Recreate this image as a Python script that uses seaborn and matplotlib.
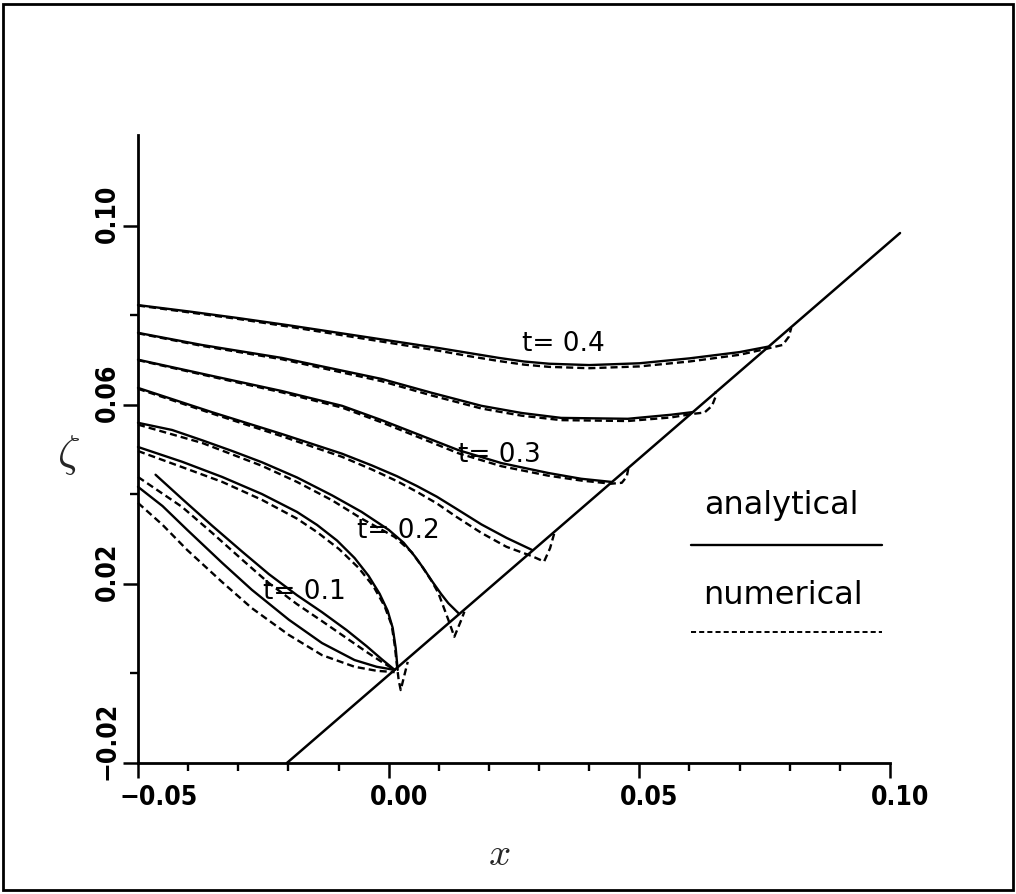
import numpy as np
import pandas as pd
import matplotlib
matplotlib.use("Agg")
import matplotlib.pyplot as plt
import seaborn as sns
from matplotlib.transforms import ScaledTranslation
from matplotlib.patches import Rectangle

# ---------------- data ----------------
# solid diagonal line
diag_x = [-0.0203, 0.1020]
diag_y = [-0.0200, 0.0984]

# t = 0.40
ana_x_040 = [-0.05, -0.04, -0.03, -0.02, -0.01, 0.0, 0.01, 0.016, 0.022, 0.027, 0.032, 0.04, 0.05, 0.06, 0.07, 0.0756]
ana_y_040 = [0.0823, 0.0809, 0.0794, 0.0778, 0.0761, 0.0744, 0.0727, 0.0716, 0.0705, 0.0697, 0.0692, 0.0689, 0.0693, 0.0704, 0.0718, 0.0730]
num_x_040 = [-0.05, -0.04, -0.03, -0.02, -0.01, 0.0, 0.01, 0.016, 0.022, 0.027, 0.032, 0.04, 0.05, 0.06, 0.07, 0.0756, 0.0786, 0.0798, 0.0803]
num_y_040 = [0.0822, 0.0807, 0.0792, 0.0775, 0.0757, 0.0739, 0.0721, 0.0709, 0.0698, 0.0690, 0.0685, 0.0682, 0.0686, 0.0697, 0.0712, 0.0726, 0.0734, 0.0752, 0.0772]

# t = 0.35
ana_x_035 = [-0.05, -0.0373, -0.0213, -0.0014, 0.0086, 0.0185, 0.0265, 0.0344, 0.0477, 0.0563, 0.0607]
ana_y_035 = [0.0761, 0.0734, 0.0705, 0.0658, 0.0627, 0.0598, 0.0582, 0.0571, 0.0569, 0.0578, 0.0584]
num_x_035 = [-0.05, -0.0373, -0.0213, -0.0014, 0.0086, 0.0185, 0.0265, 0.0344, 0.0477, 0.0563, 0.0607, 0.0630, 0.0645, 0.0652, 0.0652]
num_y_035 = [0.0760, 0.0732, 0.0702, 0.0653, 0.0621, 0.0592, 0.0576, 0.0566, 0.0564, 0.0572, 0.0580, 0.0583, 0.0598, 0.0618, 0.0630]

# t = 0.30
ana_x_030 = [-0.05, -0.0353, -0.0213, -0.0093, -0.0014, 0.0066, 0.0139, 0.0225, 0.0318, 0.0384, 0.0444]
ana_y_030 = [0.0701, 0.0665, 0.0631, 0.0598, 0.0566, 0.0531, 0.0499, 0.0470, 0.0448, 0.0435, 0.0428]
num_x_030 = [-0.05, -0.0353, -0.0213, -0.0093, -0.0014, 0.0066, 0.0139, 0.0225, 0.0318, 0.0384, 0.0444, 0.0465, 0.0475, 0.0478]
num_y_030 = [0.0700, 0.0663, 0.0628, 0.0594, 0.0561, 0.0525, 0.0492, 0.0463, 0.0442, 0.0431, 0.0424, 0.0426, 0.0440, 0.0458]

# t = 0.25
ana_x_025 = [-0.05, -0.0353, -0.0213, -0.0093, -0.0034, 0.0016, 0.0056, 0.0096, 0.0135, 0.0185, 0.0235, 0.0286]
ana_y_025 = [0.0638, 0.0584, 0.0535, 0.0491, 0.0465, 0.0441, 0.0419, 0.0395, 0.0368, 0.0333, 0.0303, 0.0276]
num_x_025 = [-0.05, -0.0353, -0.0213, -0.0093, -0.0034, 0.0016, 0.0056, 0.0096, 0.0135, 0.0185, 0.0235, 0.0286, 0.0310, 0.0322, 0.0330]
num_y_025 = [0.0636, 0.0581, 0.0530, 0.0484, 0.0456, 0.0430, 0.0406, 0.0380, 0.0350, 0.0314, 0.0283, 0.0262, 0.0250, 0.0280, 0.0312]

# t = 0.20
ana_x_020 = [-0.05, -0.0432, -0.0372, -0.0312, -0.0253, -0.0183, -0.0113, -0.0054, 0.0000, 0.0030, 0.0052, 0.0070, 0.0086, 0.0105, 0.0119, 0.0139]
ana_y_020 = [0.0560, 0.0544, 0.0521, 0.0497, 0.0472, 0.0438, 0.0398, 0.0361, 0.0321, 0.0292, 0.0262, 0.0234, 0.0207, 0.0177, 0.0157, 0.0135]
num_x_020 = [-0.05, -0.0372, -0.0253, -0.0183, -0.0113, -0.0054, 0.0012, 0.0046, 0.0066, 0.0086, 0.0099, 0.0119, 0.0131, 0.0145, 0.0151]
num_y_020 = [0.0556, 0.0515, 0.0464, 0.0428, 0.0387, 0.0346, 0.0305, 0.0271, 0.0240, 0.0206, 0.0180, 0.0120, 0.0082, 0.0120, 0.0138]

# t = 0.15
ana_x_015 = [-0.05, -0.0412, -0.0332, -0.0253, -0.0183, -0.0143, -0.0103, -0.0068, -0.0040, -0.0018, -0.0002, 0.0008, 0.0014, 0.0018]
ana_y_015 = [0.0506, 0.0473, 0.0439, 0.0401, 0.0361, 0.0332, 0.0297, 0.0258, 0.0218, 0.0178, 0.0140, 0.0102, 0.0057, 0.0008]
num_x_015 = [-0.05, -0.0412, -0.0332, -0.0253, -0.0183, -0.0143, -0.0099, -0.0060, -0.0030, -0.0008, 0.0006, 0.0012, 0.0016, 0.0020, 0.0024, 0.0030, 0.0038]
num_y_015 = [0.0497, 0.0461, 0.0428, 0.0388, 0.0346, 0.0316, 0.0278, 0.0236, 0.0194, 0.0150, 0.0108, 0.0064, 0.0023, -0.0015, -0.0037, -0.0010, 0.0026]

# t = 0.10
ana_x_010 = [-0.0465, -0.0412, -0.0352, -0.0292, -0.0239, -0.0183, -0.0133, -0.0084, -0.0044, -0.0014, 0.0012]
ana_y_010 = [0.0444, 0.0390, 0.0330, 0.0272, 0.0222, 0.0175, 0.0137, 0.0097, 0.0061, 0.0032, 0.0008]
num_x_010 = [-0.05, -0.0412, -0.0352, -0.0292, -0.0239, -0.0183, -0.0133, -0.0084, -0.0044, -0.0014, 0.0012]
num_y_010 = [0.0439, 0.0372, 0.0314, 0.0254, 0.0202, 0.0155, 0.0117, 0.0079, 0.0048, 0.0026, 0.0008]

# t = 0.05
ana_x_005 = [-0.05, -0.0451, -0.0402, -0.0332, -0.0273, -0.0199, -0.0133, -0.0068, -0.0024, 0.0012]
ana_y_005 = [0.0417, 0.0374, 0.0321, 0.0247, 0.0187, 0.0120, 0.0068, 0.0030, 0.0015, 0.0008]
num_x_005 = [-0.05, -0.0451, -0.0402, -0.0332, -0.0273, -0.0199, -0.0133, -0.0068, -0.0024, 0.0012]
num_y_005 = [0.0381, 0.0332, 0.0276, 0.0204, 0.0146, 0.0086, 0.0041, 0.0015, 0.0006, 0.0003]

curve_times = ["0.40", "0.35", "0.30", "0.25", "0.20", "0.15", "0.10", "0.05"]

# curve annotations
label_text = ["t= 0.4", "t= 0.3", "t= 0.2", "t= 0.1"]
label_x = [0.0348, 0.0221, 0.0020, -0.0169]
label_y = [0.0736, 0.0488, 0.0318, 0.0182]

# axes ticks
x_major = [-0.05, 0.00, 0.05, 0.10]
x_major_labels = ["\u22120.05", "0.00", "0.05", "0.10"]
x_minor = [-0.04, -0.03, -0.02, -0.01, 0.01, 0.02, 0.03, 0.04, 0.06, 0.07, 0.08, 0.09]
y_major = [-0.02, 0.02, 0.06, 0.10]
y_major_labels = ["\u22120.02", "0.02", "0.06", "0.10"]
y_minor = [0.00, 0.04, 0.08]

legend_names = ["analytical", "numerical"]

# ---------------- assemble long table ----------------
series = {
    "0.40": (ana_x_040, ana_y_040, num_x_040, num_y_040),
    "0.35": (ana_x_035, ana_y_035, num_x_035, num_y_035),
    "0.30": (ana_x_030, ana_y_030, num_x_030, num_y_030),
    "0.25": (ana_x_025, ana_y_025, num_x_025, num_y_025),
    "0.20": (ana_x_020, ana_y_020, num_x_020, num_y_020),
    "0.15": (ana_x_015, ana_y_015, num_x_015, num_y_015),
    "0.10": (ana_x_010, ana_y_010, num_x_010, num_y_010),
    "0.05": (ana_x_005, ana_y_005, num_x_005, num_y_005),
}
rows = []
for name in curve_times:
    axx, ayy, nxx, nyy = series[name]
    for xv, yv in zip(axx, ayy):
        rows.append({"curve": name, "kind": "analytical", "x": xv, "y": yv})
    for xv, yv in zip(nxx, nyy):
        rows.append({"curve": name, "kind": "numerical", "x": xv, "y": yv})
df = pd.DataFrame(rows)

# ---------------- figure ----------------
sns.set_theme(style="white")
plt.rcParams["font.family"] = ["DejaVu Sans"]
plt.rcParams["mathtext.fontset"] = "cm"

W, H = 1016, 894
fig = plt.figure(figsize=(W / 100, H / 100), dpi=100)
fig.patch.set_facecolor("white")
ax = fig.add_axes([138 / W, (H - 763) / H, (890 - 138) / W, (763 - 135) / H])
ax.set_facecolor("white")

DASH = (3.0, 1.7)
sns.lineplot(data=df, x="x", y="y", units="curve", style="kind",
             estimator=None, sort=False, color="black", linewidth=1.7,
             dashes={"analytical": "", "numerical": DASH}, legend=False, ax=ax)
sns.lineplot(x=diag_x, y=diag_y, color="black", linewidth=1.8,
             estimator=None, sort=False, ax=ax)
for ln in ax.lines:
    ln.set_clip_on(False)
    ln.set_solid_capstyle("round")
    ln.set_solid_joinstyle("round")
    ln.set_dash_capstyle("butt")

ax.set_xlim(-0.05, 0.10)
ax.set_ylim(-0.02, 0.1203)

for s in ["top", "right"]:
    ax.spines[s].set_visible(False)
for s in ["left", "bottom"]:
    ax.spines[s].set_linewidth(2.0)
    ax.spines[s].set_color("black")

tick_font = dict(fontsize=19, fontweight="bold", fontstretch="condensed")
ax.set_xticks(x_major, labels=x_major_labels, **tick_font)
ax.set_xticks(x_minor, minor=True)
ax.set_yticks(y_major, labels=y_major_labels, **tick_font)
ax.set_yticks(y_minor, minor=True)
ax.tick_params(axis="both", which="both", bottom=True, left=True, top=False, right=False)
ax.tick_params(axis="both", which="major", direction="out", length=11, width=1.8,
               color="black", labelcolor="black")
ax.tick_params(axis="both", which="minor", direction="out", length=6, width=1.7,
               color="black")
ax.tick_params(axis="x", which="major", pad=5)
ax.tick_params(axis="y", which="major", pad=11)

for lab in ax.get_xticklabels():
    lab.set_ha("left")
    lab.set_transform(lab.get_transform() +
                      ScaledTranslation(-0.19, 0, fig.dpi_scale_trans))
for lab in ax.get_yticklabels():
    lab.set_rotation(90)
    lab.set_rotation_mode("anchor")
    lab.set_ha("left")
    lab.set_va("center")
    lab.set_transform(lab.get_transform() +
                      ScaledTranslation(0, -0.17, fig.dpi_scale_trans))

ax.set_xlabel("$x$", fontsize=28)
ax.xaxis.set_label_coords(0.48, -0.115)
ax.set_ylabel(r"$\zeta$", fontsize=32, rotation=0, va="center", ha="center")
ax.yaxis.set_label_coords(-0.093, 0.49)

# curve annotations
for txt, xv, yv in zip(label_text, label_x, label_y):
    ax.text(xv, yv, txt, fontsize=19, ha="center", va="center", color="black")

# hand-drawn legend (text above line sample)
ax.text(0.855, 0.41, legend_names[0], transform=ax.transAxes, fontsize=23,
        ha="center", va="center", color="black")
ax.plot([0.735, 0.989], [0.347, 0.347], transform=ax.transAxes, color="black",
        linewidth=1.7, clip_on=False)
ax.text(0.858, 0.266, legend_names[1], transform=ax.transAxes, fontsize=23,
        ha="center", va="center", color="black")
ax.plot([0.735, 0.989], [0.209, 0.209], transform=ax.transAxes, color="black",
        linewidth=1.4, dashes=(2.6, 1.6), clip_on=False)

# outer frame of the figure
fig.patches.append(Rectangle((0.003, 0.004), 0.994, 0.992, transform=fig.transFigure,
                             fill=False, edgecolor="black", linewidth=2.0))

fig.savefig("out.png", dpi=100, facecolor="white")
